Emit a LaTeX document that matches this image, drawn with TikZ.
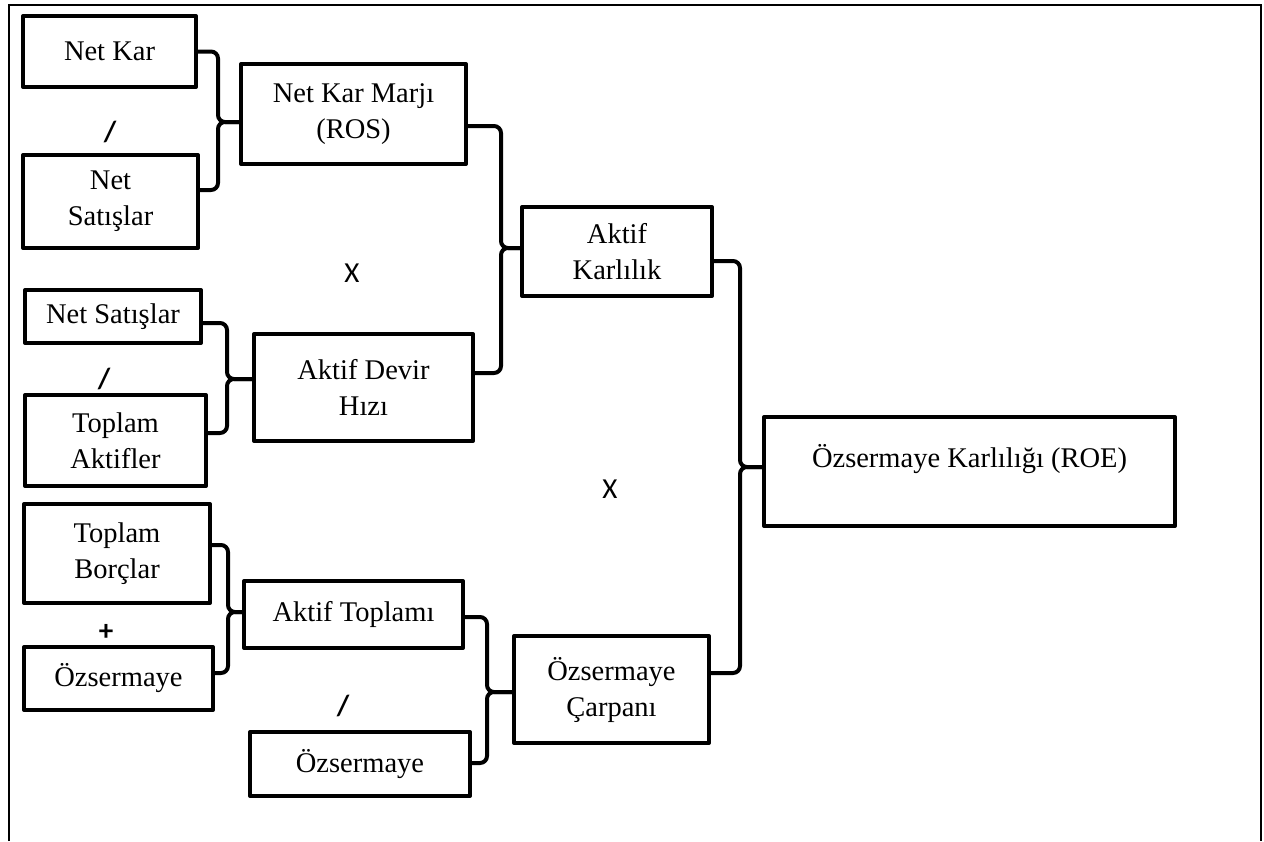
\documentclass[tikz,border=0pt]{standalone}
\usepackage{fontspec}
\setmainfont{Liberation Serif}
\newfontfamily\opfont{Carlito}[BoldFont=Carlito Bold]
\begin{document}
\begin{tikzpicture}[x=1pt,y=-1pt,
  box/.style={draw, line width=4pt, line join=round, align=center, inner sep=0pt,
    font=\fontsize{28.5}{36}\selectfont},
  conn/.style={line width=4pt, rounded corners=7pt},
  op/.style={font=\opfont\fontsize{29}{30}\selectfont, inner sep=0pt},
  opb/.style={font=\opfont\bfseries\fontsize{29}{30}\selectfont, inner sep=0pt},
  frame/.style={line width=2.5pt}]
\useasboundingbox (0,0) rectangle (1264,841);
\draw[frame] (9,841) -- (9,5) -- (1261,5) -- (1261,841);

% boxes
\node[box, minimum width=173pt, minimum height=71pt] (nk) at (109.5,51.5) {Net Kar};
\node[box, minimum width=175pt, minimum height=93pt] (ns1) at (110.5,201.5) {Net\\Satışlar};
\node[box, minimum width=225pt, minimum height=100pt] (nkm) at (353.5,114) {Net Kar Marjı\\(ROS)};
\node[box, minimum width=176pt, minimum height=53pt] (ns2) at (113,316.5) {Net Satışlar};
\node[box, minimum width=181pt, minimum height=91pt] (ta) at (115.5,440.5) {Toplam\\Aktifler};
\node[box, minimum width=219pt, minimum height=107pt] (adh) at (363.5,387.5) {Aktif Devir\\Hızı};
\node[box, minimum width=190pt, minimum height=89pt] (ak) at (617,251.5) {Aktif\\Karlılık};
\node[box, minimum width=411pt, minimum height=109pt, text height=22pt, text depth=31pt] (roe) at (969.5,471.5) {Özsermaye Karlılığı (ROE)};
\node[box, minimum width=186pt, minimum height=99pt] (tb) at (117,553.5) {Toplam\\Borçlar};
\node[box, minimum width=189pt, minimum height=63pt] (oz1) at (118.5,678.5) {Özsermaye};
\node[box, minimum width=219pt, minimum height=67pt] (at) at (353.5,614.5) {Aktif Toplamı};
\node[box, minimum width=220pt, minimum height=64pt] (oz2) at (360,764) {Özsermaye};
\node[box, minimum width=195pt, minimum height=107pt] (oc) at (611.5,689.5) {Özsermaye\\Çarpanı};

% operators
\node[opb] (op1) at (110,132) {/};
\node[op]  (op2) at (352,273) {X};
\node[opb] (op3) at (104,379) {/};
\node[op]  (op4) at (610,489) {X};
\node[opb] (op5) at (106,632) {+};
\node[opb] (op6) at (343,706) {/};

% connectors (braces)
\draw[conn] (nk.east) -| (218,122) -- (nkm.west |- 0,122);
\draw[conn] ([yshift=11.5pt]ns1.east) -| (218,122) -- (nkm.west |- 0,122);

\draw[conn] ([yshift=-6.5pt]ns2.east) -| (227,379) -- (adh.west |- 0,379);
\draw[conn] ([yshift=7.5pt]ta.east) -| (227,379) -- (adh.west |- 0,379);

\draw[conn] ([yshift=-12pt]nkm.east) -| (501,248) -- (ak.west |- 0,248);
\draw[conn] ([yshift=14.5pt]adh.east) -| (501,248) -- (ak.west |- 0,248);

\draw[conn] ([yshift=8.5pt]tb.east) -| (228,612) -- (at.west |- 0,612);
\draw[conn] ([yshift=5.5pt]oz1.east) -| (228,612) -- (at.west |- 0,612);

\draw[conn] ([yshift=-2.5pt]at.east) -| (487,692) -- (oc.west |- 0,692);
\draw[conn] ([yshift=1pt]oz2.east) -| (487,692) -- (oc.west |- 0,692);

\draw[conn] ([yshift=-9.5pt]ak.east) -| (740,467) -- (roe.west |- 0,467);
\draw[conn] ([yshift=16.5pt]oc.east) -| (740,467) -- (roe.west |- 0,467);
\end{tikzpicture}
\end{document}
